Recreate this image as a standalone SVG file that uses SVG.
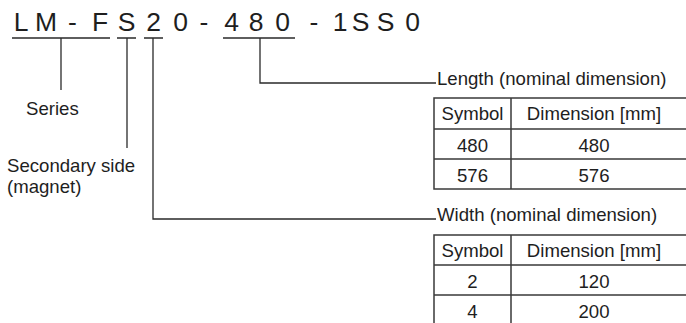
<svg xmlns="http://www.w3.org/2000/svg" width="686" height="323" viewBox="0 0 686 323">
<style>
  text { font-family: "Liberation Sans", Arial, sans-serif; fill: #1e1e1e; }
  .code { font-size: 26.5px; text-anchor: middle; }
  .lbl { font-size: 18.6px; }
  .cell { font-size: 18.6px; text-anchor: middle; }
  .ln { stroke: #2a2a2a; stroke-width: 1.3; fill: none; }
  .tb { stroke: #3a3a3a; stroke-width: 1.5; fill: none; }
</style>
<rect width="686" height="323" fill="#ffffff"/>
<g id="model-code">
  <text class="code" x="21 46 72.5 100 126.5 153.5 180.5 204 231.5 256 282.5 314 340 360.5 385.5 412.5" y="31">LM-FS20-480-1SS0</text>
</g>
<g id="connectors">
  <path class="ln" d="M12 38H110M117 38H136M144 38H163M223 38H295"/>
  <path class="ln" d="M61 38V90"/>
  <path class="ln" d="M127 38V148"/>
  <path class="ln" d="M153 38V219H436"/>
  <path class="ln" d="M260 38V83H436"/>
</g>
<g id="series">
  <text class="lbl" x="26" y="115">Series</text>
</g>
<g id="secondary-side">
  <text class="lbl" x="7" y="172">Secondary side</text>
  <text class="lbl" x="7" y="193">(magnet)</text>
</g>
<g id="length">
  <text class="lbl" x="437" y="85">Length (nominal dimension)</text>
  <rect class="tb" x="434" y="98" width="260" height="91"/>
  <path class="tb" d="M434 129H694M434 159H694M511 98V189"/>
  <text class="cell" x="472.5" y="120">Symbol</text>
  <text class="cell" x="594" y="120">Dimension [mm]</text>
  <text class="cell" x="472.5" y="152">480</text>
  <text class="cell" x="594" y="152">480</text>
  <text class="cell" x="472.5" y="182">576</text>
  <text class="cell" x="594" y="182">576</text>
</g>
<g id="width">
  <text class="lbl" x="437" y="221">Width (nominal dimension)</text>
  <rect class="tb" x="434" y="235" width="260" height="95"/>
  <path class="tb" d="M434 265H694M434 295H694M511 235V330"/>
  <text class="cell" x="472.5" y="257">Symbol</text>
  <text class="cell" x="594" y="257">Dimension [mm]</text>
  <text class="cell" x="472.5" y="288">2</text>
  <text class="cell" x="594" y="288">120</text>
  <text class="cell" x="472.5" y="318">4</text>
  <text class="cell" x="594" y="318">200</text>
</g>
</svg>
